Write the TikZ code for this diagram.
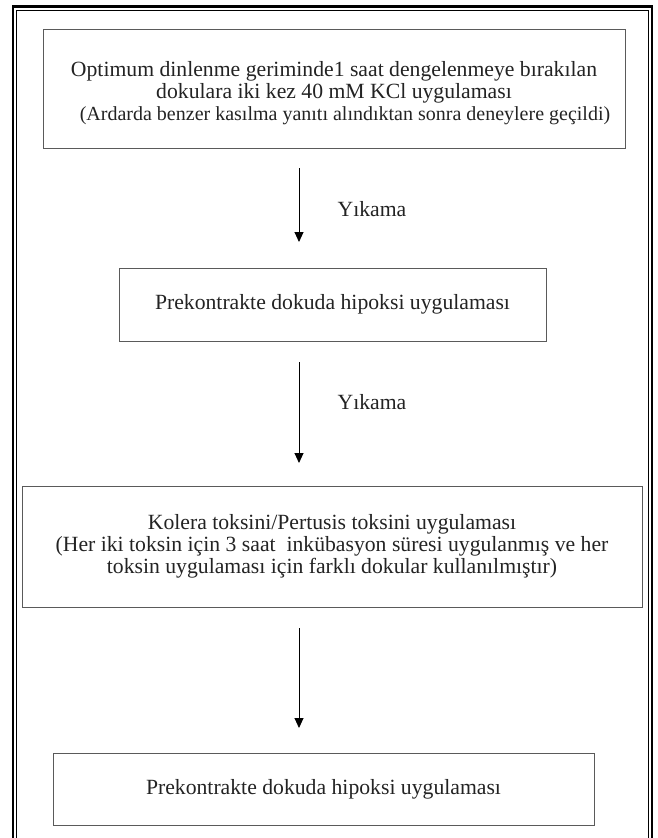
\documentclass[tikz,border=0pt]{standalone}
\usepackage{fontspec}
\setmainfont{Liberation Serif}
\usepackage{tikz}
\usetikzlibrary{arrows.meta}
\definecolor{boxgray}{RGB}{90,90,90}
\definecolor{txtgray}{RGB}{35,35,35}

\tikzset{
  stepbox/.style={draw=boxgray,line width=0.9pt,align=center,text=txtgray,
    inner sep=0pt,font=\fontsize{21.7}{22}\selectfont},
  flow/.style={line width=0.9pt,-{Triangle[width=9pt,length=10pt]}},
  washlabel/.style={text=txtgray,font=\fontsize{21.7}{22}\selectfont}
}

\begin{document}
\begin{tikzpicture}[x=1pt,y=-1pt]
  \useasboundingbox (0,0) rectangle (657,838);
  % double frame, open at the bottom
  \draw[line width=2.6pt] (13,838) -- (13,6.3) -- (652,6.3) -- (652,838);
  \draw[line width=0.8pt] (16.6,838) -- (16.6,9.9) -- (648.4,9.9) -- (648.4,838);

  \node[stepbox,minimum width=582pt,minimum height=119pt] (dengeleme) at (334,89)
    {\rule{0pt}{23pt}Optimum dinlenme geriminde1 saat dengelenmeye bırakılan\\
     dokulara iki kez 40 mM KCl uygulaması\\
     \hspace*{22pt}{\fontsize{20}{22}\selectfont(Ardarda benzer kasılma yanıtı alındıktan sonra deneylere geçildi)}};
  \node[stepbox,minimum width=427pt,minimum height=73pt] (hipoksiA) at (332.5,304.5)
    {Prekontrakte dokuda hipoksi uygulaması};
  \node[stepbox,minimum width=620pt,minimum height=121pt] (toksin) at (332,546.5)
    {Kolera toksini/Pertusis toksini uygulaması\\
     (Her iki toksin için 3 saat \ inkübasyon süresi uygulanmış ve her\\
     toksin uygulaması için farklı dokular kullanılmıştır)};
  \node[stepbox,minimum width=541pt,minimum height=72pt] (hipoksiB) at (323.5,789)
    {Prekontrakte dokuda hipoksi uygulaması};

  \coordinate (o1) at (299,168);  \coordinate (u1) at (299,242);
  \coordinate (o2) at (299,362);  \coordinate (u2) at (299,463);
  \coordinate (o3) at (299,628);  \coordinate (u3) at (299,728);
  \draw[flow] (o1) -- (u1);
  \draw[flow] (o2) -- (u2);
  \draw[flow] (o3) -- (u3);
  \node[washlabel] (yikama1) at (372,209) {Yıkama};
  \node[washlabel] (yikama2) at (372,402) {Yıkama};
\end{tikzpicture}
\end{document}
